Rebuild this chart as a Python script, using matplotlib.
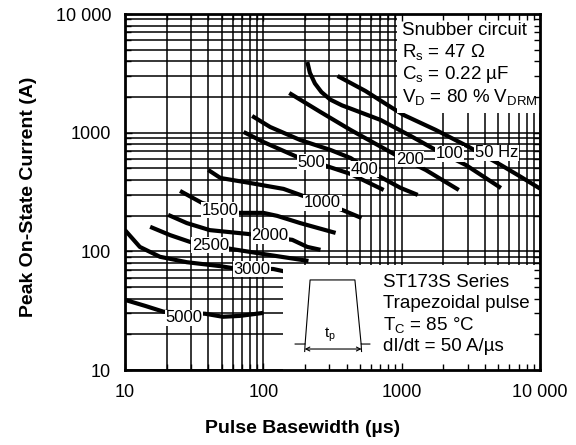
import matplotlib
matplotlib.use("Agg")
import matplotlib.pyplot as plt
from matplotlib.ticker import FixedLocator, FixedFormatter, LogLocator, NullFormatter
from matplotlib.patches import Rectangle

plt.rcParams['font.family'] = ['Liberation Sans', 'DejaVu Sans']
plt.rcParams['mathtext.default'] = 'regular'

# pulse basewidth (us) / peak on-state current (A), one pair per frequency
w_50 = [344, 548, 832, 1033, 1763, 3061, 5217, 7278, 10000]
i_50 = [3006, 2244, 1647, 1410, 1055, 758, 534, 424, 338]
w_100 = [208, 217, 236, 263, 305, 370, 450, 704, 1162, 1763, 2911, 5217]
i_100 = [3944, 3200, 2600, 2200, 1900, 1700, 1560, 1280, 938, 715, 534, 342]
w_200 = [154, 259, 427, 905, 1493, 2588]
i_200 = [2160, 1493, 1055, 649, 485, 329]
w_400 = [83, 112, 185, 306, 427, 681, 984, 1306]
i_400 = [1383, 1117, 867, 715, 612, 432, 342, 299]
w_500 = [72, 100, 176, 272, 427, 741]
i_500 = [1014, 835, 624, 534, 449, 329]
w_1000 = [40, 49, 80, 140, 185, 373, 513]
i_1000 = [485, 415, 377, 336, 299, 223, 191]
w_1500 = [25, 36, 67, 100, 126, 185, 333]
i_1500 = [323, 256, 211, 211, 199, 173, 143]
w_2000 = [20.5, 28, 41, 78, 162, 208, 259]
i_2000 = [203, 173, 151, 140, 125, 109, 103]
w_2500 = [15.2, 21.2, 29.6, 58, 112, 212]
i_2500 = [161, 137, 120, 105, 93, 83]
w_3000 = [10, 12.8, 17.9, 28, 49, 61, 118, 140]
i_3000 = [151, 109, 90, 81, 75, 72, 71, 68]
w_5000 = [10, 14, 19, 38, 51, 68, 100]
i_5000 = [39, 34.7, 31, 29.8, 28.1, 28.6, 30.3]

curves = [(w_50, i_50), (w_100, i_100), (w_200, i_200), (w_400, i_400),
          (w_500, i_500), (w_1000, i_1000), (w_1500, i_1500), (w_2000, i_2000),
          (w_2500, i_2500), (w_3000, i_3000), (w_5000, i_5000)]
curve_labels = ['50 Hz', '100', '200', '400', '500', '1000', '1500', '2000',
                '2500', '3000', '5000']
label_pos = [(4875, 675), (2228, 662), (1143, 600), (540, 494), (223, 566),
             (268, 256), (48.8, 223), (112, 135), (41.3, 113), (83.2, 71), (26.8, 27.5)]

tick_vals = [10, 100, 1000, 10000]
tick_text = ['10', '100', '1000', '10 000']

fig = plt.figure(figsize=(5.76, 4.45), dpi=100)
ax = fig.add_axes([0.217, 0.1685, 0.7205, 0.8])

for (w, i) in curves:
    ax.plot(w, i, color='black', lw=3.0, solid_capstyle='butt', zorder=3)

for txt, (x, y) in zip(curve_labels, label_pos):
    ax.text(x, y, txt, fontsize=12, ha='center', va='center', zorder=6,
            bbox=dict(facecolor='white', edgecolor='none', pad=0.5))

ax.set_xscale('log')
ax.set_yscale('log')
ax.set_xlim(10, 10000)
ax.set_ylim(10, 10000)
ax.set_axisbelow(True)
ax.grid(which='both', color='black', lw=1.1)

for a in (ax.xaxis, ax.yaxis):
    a.set_major_locator(FixedLocator(tick_vals))
    a.set_major_formatter(FixedFormatter(tick_text))
    a.set_minor_locator(LogLocator(base=10, subs=range(2, 10)))
    a.set_minor_formatter(NullFormatter())
ax.tick_params(which='both', length=0, labelsize=13, pad=10)
for s in ax.spines.values():
    s.set_visible(False)

ax.set_xlabel('Pulse Basewidth (µs)', fontsize=14, fontweight='bold')
ax.set_ylabel('Peak On-State Current (A)', fontsize=14, fontweight='bold')
ax.xaxis.set_label_coords(0.427, -0.14)
ax.yaxis.set_label_coords(-0.212, 0.486)

# white panels holding the notes
ax.add_patch(Rectangle((0.655, 0.722), 0.345, 0.278, transform=ax.transAxes,
                       facecolor='white', edgecolor='none', zorder=4))
ax.add_patch(Rectangle((0.381, 0.0), 0.619, 0.295, transform=ax.transAxes,
                       facecolor='white', edgecolor='none', zorder=4))

top_notes = ['Snubber circuit', 'R$_s$ = 47 Ω', 'C$_s$ = 0.22 µF',
             'V$_D$ = 80 % V$_{DRM}$']
for k, t in enumerate(top_notes):
    ax.text(0.667, 0.955 - k * 0.0625, t, transform=ax.transAxes, fontsize=13.5,
            ha='left', va='center', zorder=6)

bottom_notes = ['ST173S Series', 'Trapezoidal pulse', 'T$_C$ = 85 °C',
                'dI/dt = 50 A/µs']
for k, t in enumerate(bottom_notes):
    ax.text(0.622, 0.247 - k * 0.0605, t, transform=ax.transAxes, fontsize=13.5,
            ha='left', va='center', zorder=6)

# pulse shape sketch
ax.plot([0.410, 0.434, 0.446, 0.554, 0.569, 0.590],
        [0.073, 0.073, 0.253, 0.253, 0.073, 0.073],
        transform=ax.transAxes, color='black', lw=0.8, zorder=5, clip_on=False)
ax.plot([0.434, 0.433], [0.073, 0.052], transform=ax.transAxes, color='black', lw=0.8, zorder=5)
ax.plot([0.569, 0.570], [0.073, 0.052], transform=ax.transAxes, color='black', lw=0.8, zorder=5)
ax.annotate('', xy=(0.570, 0.059), xytext=(0.433, 0.059), xycoords='axes fraction',
            arrowprops=dict(arrowstyle='<->', lw=0.8, shrinkA=0, shrinkB=0,
                            mutation_scale=7), zorder=5)
ax.text(0.494, 0.098, 't$_p$', transform=ax.transAxes, fontsize=11,
        ha='center', va='center', zorder=6)

# frame and inward ticks on top of the panels
ax2 = fig.add_axes(ax.get_position(), zorder=5)
ax2.patch.set_visible(False)
ax2.set_xscale('log')
ax2.set_yscale('log')
ax2.set_xlim(10, 10000)
ax2.set_ylim(10, 10000)
for a in (ax2.xaxis, ax2.yaxis):
    a.set_major_locator(FixedLocator(tick_vals))
    a.set_minor_locator(LogLocator(base=10, subs=range(2, 10)))
    a.set_minor_formatter(NullFormatter())
ax2.tick_params(which='both', direction='in', top=True, right=True,
                labelbottom=False, labelleft=False, width=1.0)
ax2.tick_params(which='major', length=5)
ax2.tick_params(which='minor', length=4)
for s in ax2.spines.values():
    s.set_linewidth(2.0)

fig.savefig('out.png', dpi=100)
